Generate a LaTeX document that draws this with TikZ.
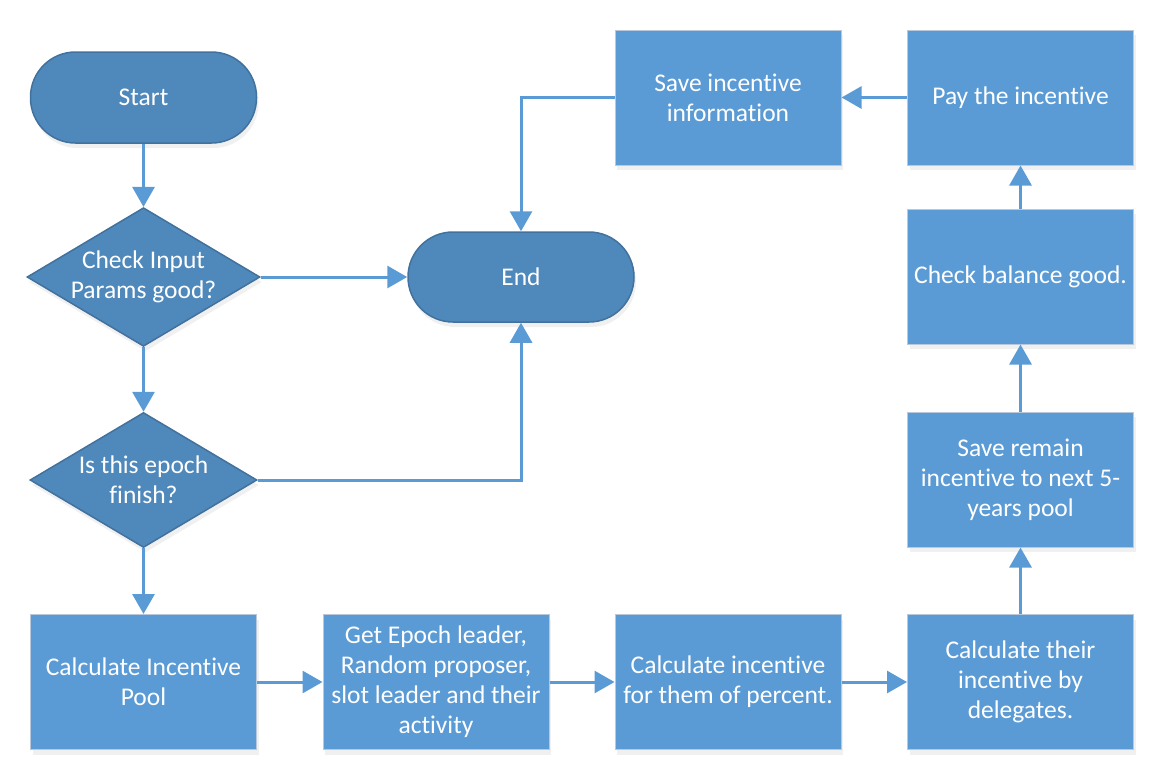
\documentclass[tikz,border=0pt]{standalone}
\usepackage{fontspec}
\setmainfont{Carlito}[Ligatures=NoCommon]
\usetikzlibrary{arrows.meta,shapes.geometric,shadows,calc}
\definecolor{boxblue}{HTML}{5B9BD5}
\definecolor{termblue}{HTML}{4F88BB}
\definecolor{termedge}{HTML}{41719C}
\definecolor{boxedge}{HTML}{B9C9DB}
\definecolor{linkblue}{HTML}{5B9BD5}
\begin{document}
\begin{tikzpicture}[x=1pt,y=-1pt,
  every node/.style={font=\fontsize{25.5}{30}\selectfont, text=white, align=center},
  shade/.style={drop shadow={opacity=0.12, shadow xshift=2pt, shadow yshift=-5pt}},
  procbox/.style={shade, rectangle, fill=boxblue, draw=boxedge, line width=1pt,
    minimum width=226pt, minimum height=135pt, inner sep=0pt},
  termbox/.style={shade, rectangle, rounded corners=45pt, fill=termblue, draw=termedge, line width=1.5pt,
    minimum width=226pt, minimum height=91pt, inner sep=0pt},
  decbox/.style={shade, diamond, aspect=1.68, fill=termblue, draw=termedge, line width=1.5pt,
    minimum width=227pt, minimum height=135pt, inner sep=0pt},
  link/.style={draw=linkblue, line width=3pt, -{Triangle[width=22pt,length=20pt]}}
]
\useasboundingbox (0,0) rectangle (1158,772);
\node[termbox] (start) at (143.5,97.5) {Start};
\node[decbox] (d1) at (143.5,277) {Check Input\\Params good?};
\node[decbox] (d2) at (143.5,480) {Is this epoch\\finish?};
\node[procbox] (pool) at (143.5,682) {Calculate Incentive\\Pool};
\node[procbox] (get) at (436,682) {Get Epoch leader,\\Random proposer,\\slot leader and their\\activity};
\node[procbox] (pct) at (728,682) {Calculate incentive\\for them of percent.};
\node[procbox] (deleg) at (1020.5,682) {Calculate their\\incentive by\\delegates.};
\node[procbox] (remain) at (1020.5,479.5) {Save remain\\incentive to next 5-\\years pool};
\node[procbox] (bal) at (1020.5,276.5) {Check balance good.};
\node[procbox] (pay) at (1020.5,97.5) {Pay the incentive};
\node[procbox] (info) at (728,97.5) {Save incentive\\information};
\node[termbox, minimum height=90pt] (end) at (521,277) {End};

\draw[link] (start.south) -- (d1.north);
\draw[link] (d1.east) -- (end.west);
\draw[link] (d1.south) -- (d2.north);
\draw[link] (d2.east) -| (end.south);
\draw[link] (d2.south) -- (pool.north);
\draw[link] (pool.east) -- (get.west);
\draw[link] (get.east) -- (pct.west);
\draw[link] (pct.east) -- (deleg.west);
\draw[link] (deleg.north) -- (remain.south);
\draw[link] (remain.north) -- (bal.south);
\draw[link] (bal.north) -- (pay.south);
\draw[link] (pay.west) -- (info.east);
\draw[link] (info.west) -| (end.north);
\end{tikzpicture}
\end{document}
